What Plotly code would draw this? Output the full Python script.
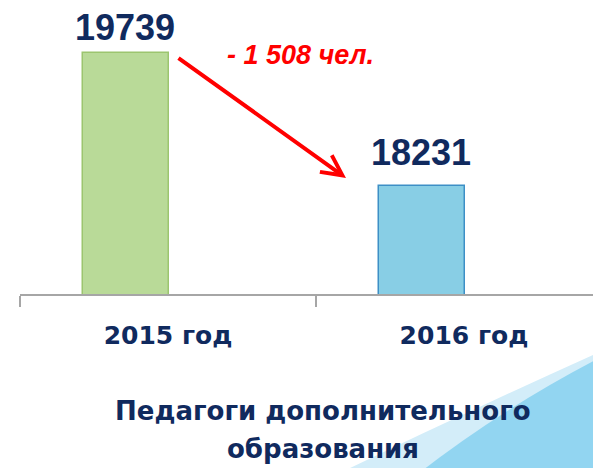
import plotly.graph_objects as go

years = ["2015 год", "2016 год"]
teachers = [19739, 18231]
value_labels = ["19739", "18231"]
change_label = "- 1 508 чел."
title_lines = ["Педагоги дополнительного", "образования"]

W, H = 601, 468
PAGE = 8  # body margin of the html page
ML, MR, MT, MB = 12, 0, 0, 182
navy = "#102a5e"


def px(x):
    # page pixel -> paper x
    return (x - PAGE - ML) / (W - ML - MR)


def py(y):
    # page pixel -> paper y
    return (H - MB - (y - PAGE)) / (H - MT - MB)


fig = go.Figure()
fig.add_trace(go.Bar(
    x=years, y=teachers,
    width=0.29, offset=-0.287,
    marker=dict(color=["#b9da98", "#88cee5"],
                line=dict(color=["#9cc56f", "#3d8fc6"], width=1.5)),
    hoverinfo="skip",
))

# background swoosh bottom-right
fig.add_shape(type="path", xref="paper", yref="paper", layer="below",
              path=f"M {px(325)},{py(480)} Q {px(470)},{py(410)} {px(615)},{py(345)} L {px(615)},{py(480)} Z",
              fillcolor="#d3edf9", line_width=0)
fig.add_shape(type="path", xref="paper", yref="paper", layer="below",
              path=f"M {px(410)},{py(480)} Q {px(505)},{py(405)} {px(615)},{py(350)} L {px(615)},{py(480)} Z",
              fillcolor="#92d5f1", line_width=0)

shifts = [25, 33]
for yr, v, lab, s in zip(years, teachers, value_labels, shifts):
    fig.add_annotation(x=yr, y=v, text=lab, showarrow=False, xshift=-43, yshift=s,
                       yanchor="middle",
                       font=dict(family="Liberation Sans, Arial", size=36, color=navy, weight="bold"))

# red arrow
fig.add_annotation(x=px(346), y=py(178), xref="paper", yref="paper", text="",
                   showarrow=True, ax=-169, ay=-121, arrowcolor="#ff0000",
                   arrowwidth=4, arrowhead=5, arrowsize=1)
fig.add_annotation(x=px(300), y=py(55), xref="paper", yref="paper", text=change_label,
                   showarrow=False, yanchor="middle",
                   font=dict(family="Liberation Sans, Arial", size=27, color="#ff0000",
                             weight="bold", style="italic"))

for txt, yc in zip(title_lines, [411, 449]):
    fig.add_annotation(x=px(323), y=py(yc), xref="paper", yref="paper", text=txt,
                       showarrow=False, yanchor="middle",
                       font=dict(family="DejaVu Sans", size=26, color=navy, weight="bold"))

fig.update_layout(
    width=W, height=H,
    margin=dict(l=ML, r=MR, t=MT, b=MB),
    paper_bgcolor="white", plot_bgcolor="white",
    showlegend=False,
    bargap=0,
)
fig.update_xaxes(type="category", range=[-0.5, 1.49],
                 showline=True, linecolor="#a6a6a6", linewidth=2,
                 ticks="outside", tickson="boundaries", ticklen=11,
                 tickcolor="#a6a6a6", tickwidth=2, ticklabelstandoff=18,
                 showgrid=False, zeroline=False,
                 tickfont=dict(family="DejaVu Sans", size=25, color=navy, weight="bold"))
fig.update_yaxes(range=[17000, 20250], visible=False, showgrid=False)

fig.write_html("out.html")
